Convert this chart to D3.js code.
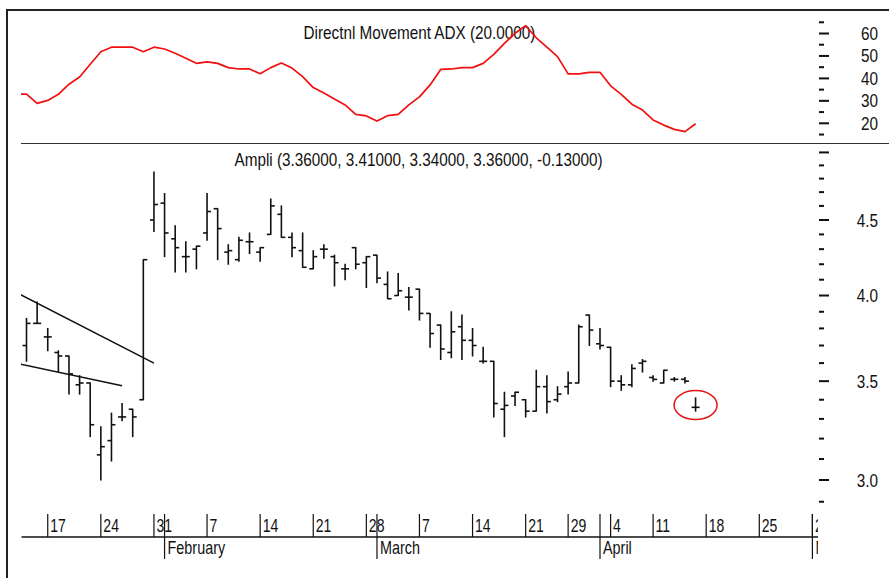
<!DOCTYPE html>
<html>
<head>
<meta charset="utf-8">
<script src="https://cdn.jsdelivr.net/npm/d3@7"></script>
<style>
  body { margin: 0; background: #fff; }
  text { font-family: "Liberation Sans", Arial, sans-serif; font-size: 18px; fill: #111; }
</style>
</head>
<body>
<div id="chart"></div>
<script>
// trading days (2005), last 11 are the empty future part of the axis
const days = [
  "01-12","01-13","01-14","01-17","01-18","01-19","01-20","01-21","01-24","01-25","01-26","01-27","01-28",
  "01-31","02-01","02-02","02-03","02-04","02-07","02-08","02-09","02-10","02-11","02-14","02-15","02-16",
  "02-17","02-18","02-21","02-22","02-23","02-24","02-25","02-28","03-01","03-02","03-03","03-04","03-07",
  "03-08","03-09","03-10","03-11","03-14","03-15","03-16","03-17","03-18","03-21","03-22","03-23","03-24",
  "03-29","03-30","03-31","04-01","04-04","04-05","04-06","04-07","04-11","04-12","04-13","04-14","04-15",
  "04-18","04-19","04-20","04-21","04-22","04-25","04-26","04-27","04-28","04-29","05-02"
];

// ADX(20), starts 01-12
const adx = [33.0,33.0,28.9,30.2,32.9,37.4,40.6,46.3,51.9,53.9,53.9,53.9,51.9,53.9,53.1,51.2,49.0,46.7,
  47.4,46.7,44.8,44.2,44.2,42.1,44.8,46.9,44.6,40.8,35.9,33.5,30.8,28.2,24.0,23.3,21.0,23.4,24.0,28.2,
  31.8,37.1,44.0,44.2,44.8,44.8,46.7,50.7,55.6,60.1,63.5,58.1,53.9,49.7,42.0,42.0,42.7,42.7,36.7,32.9,
  28.5,25.9,21.5,19.2,17.3,16.3,19.8];

// Ampli prices, start 01-13
const open = [3.70,3.83,3.75,3.66,3.64,3.48,3.49,3.12,3.19,3.31,3.35,3.40,4.50,4.62,4.37,4.25,4.30,4.41,
  4.58,4.28,4.23,4.35,4.28,4.40,4.54,4.38,4.29,4.17,4.30,4.25,4.17,4.31,4.21,4.26,4.07,4.00,3.99,4.04,
  3.89,3.82,3.66,3.81,3.73,3.61,3.61,3.35,3.42,3.40,3.34,3.47,3.40,3.47,3.49,3.88,3.71,3.69,3.50,3.48,
  3.60,3.52,3.49,3.51,3.51,3.36];
const high = [3.86,3.96,3.80,3.67,3.64,3.53,3.49,3.26,3.33,3.38,3.35,4.23,4.85,4.69,4.46,4.35,4.32,4.69,
  4.58,4.33,4.38,4.41,4.31,4.65,4.60,4.41,4.41,4.29,4.33,4.26,4.20,4.31,4.25,4.26,4.15,4.14,4.05,4.04,
  3.89,3.82,3.90,3.88,3.80,3.69,3.61,3.44,3.44,3.40,3.56,3.53,3.47,3.55,3.82,3.88,3.80,3.69,3.53,3.59,
  3.62,3.53,3.56,3.52,3.52,3.41];
const low = [3.61,3.83,3.67,3.55,3.43,3.43,3.21,3.00,3.09,3.29,3.21,3.40,4.42,4.25,4.15,4.15,4.17,4.36,
  4.23,4.20,4.22,4.27,4.22,4.40,4.38,4.25,4.18,4.17,4.24,4.06,4.10,4.17,4.05,4.08,3.98,4.00,3.91,3.85,
  3.69,3.62,3.63,3.62,3.64,3.60,3.31,3.21,3.37,3.31,3.34,3.33,3.39,3.43,3.49,3.70,3.68,3.47,3.45,3.47,
  3.55,3.50,3.49,3.50,3.49,3.34];
const close = [3.83,3.83,3.75,3.64,3.54,3.49,3.27,3.16,3.27,3.31,3.31,4.23,4.61,4.41,4.31,4.25,4.32,4.56,
  4.44,4.29,4.36,4.35,4.31,4.60,4.38,4.31,4.18,4.25,4.30,4.21,4.17,4.20,4.25,4.11,3.98,4.03,3.99,3.89,
  3.77,3.68,3.78,3.73,3.70,3.61,3.38,3.37,3.44,3.34,3.47,3.39,3.43,3.49,3.81,3.79,3.70,3.50,3.48,3.57,
  3.61,3.51,3.56,3.51,3.50,3.36];

// hand drawn trend lines [day, price]
const trendLines = [
  [["01-12", 4.02], ["01-31", 3.60]],
  [["01-12", 3.60], ["01-26", 3.475]]
];

// axis ticks and labels
const weekTicks = ["01-17","01-24","01-31","02-07","02-14","02-21","02-28","03-07","03-14","03-21",
  "03-29","04-04","04-11","04-18","04-25","05-02"];
const weekLabels = ["17","24","31","7","14","21","28","7","14","21","29","4","11","18","25","2"];
const monthTicks = ["02-01","03-01","04-01","05-02"];
const monthLabels = ["February","March","April","May"];
const priceMajor = [3.0, 3.5, 4.0, 4.5, 5.0];
const priceLabels = ["3.0", "3.5", "4.0", "4.5", ""];
const priceMinor = [2.9,3.1,3.2,3.3,3.4,3.6,3.7,3.8,3.9,4.1,4.2,4.3,4.4,4.6,4.7,4.8,4.9];
const adxMajor = [20, 30, 40, 50, 60];
const adxMinor = [15, 25, 35, 45, 55, 65];

const width = 889, height = 578;
const svg = d3.select("#chart").append("svg")
  .attr("width", width)
  .attr("height", height);

const x = d3.scalePoint().domain(days).range([15.88, 812.4]);
const yAdx = d3.scaleLinear().domain([20, 60]).range([123.3, 33.5]);
const yP = d3.scaleLog().domain([3.0, 4.5]).range([480, 220]);

// plot clip
svg.append("clipPath").attr("id", "plotclip")
  .append("rect").attr("x", 21).attr("y", 11).attr("width", 797).attr("height", 560);

// frame
svg.append("line").attr("x1", 7).attr("x2", 7).attr("y1", 10).attr("y2", height)
  .attr("stroke", "#222").attr("stroke-width", 2);
svg.append("line").attr("x1", 6).attr("x2", width).attr("y1", 10).attr("y2", 10)
  .attr("stroke", "#222").attr("stroke-width", 2);
svg.append("line").attr("x1", 21).attr("x2", width).attr("y1", 143.5).attr("y2", 143.5)
  .attr("stroke", "#333").attr("stroke-width", 1);

function label(g, px, py, str, anchor, sx) {
  return g.append("text")
    .attr("transform", `translate(${px},${py}) scale(${sx || 0.85},1)`)
    .attr("text-anchor", anchor || "start")
    .text(str);
}

// titles
label(svg, 419.5, 39, "Directnl Movement ADX (20.0000)", "middle");
label(svg, 418.5, 166, "Ampli (3.36000, 3.41000, 3.34000, 3.36000, -0.13000)", "middle");

const plot = svg.append("g").attr("clip-path", "url(#plotclip)");

// ADX line
plot.append("path")
  .datum(adx)
  .attr("fill", "none")
  .attr("stroke", "#f01010")
  .attr("stroke-width", 1.7)
  .attr("stroke-linejoin", "round")
  .attr("d", d3.line().x((d, i) => x(days[i])).y(d => yAdx(d)));

// price bars
const bars = open.map((o, i) => ({ day: days[i + 1], o: o, h: high[i], l: low[i], c: close[i] }));
const bar = plot.append("g").attr("stroke", "#111").attr("stroke-width", 1.6);
bar.selectAll("line.hl").data(bars).join("line")
  .attr("class", "hl")
  .attr("x1", d => x(d.day)).attr("x2", d => x(d.day))
  .attr("y1", d => yP(d.h) - 0.5).attr("y2", d => yP(d.l) + 0.5);
bar.selectAll("line.op").data(bars).join("line")
  .attr("class", "op")
  .attr("x1", d => x(d.day) - 4).attr("x2", d => x(d.day))
  .attr("y1", d => yP(d.o)).attr("y2", d => yP(d.o));
bar.selectAll("line.cl").data(bars).join("line")
  .attr("class", "cl")
  .attr("x1", d => x(d.day)).attr("x2", d => x(d.day) + 4)
  .attr("y1", d => yP(d.c)).attr("y2", d => yP(d.c));

// trend lines
plot.selectAll("line.trend").data(trendLines).join("line")
  .attr("class", "trend")
  .attr("x1", d => x(d[0][0])).attr("y1", d => yP(d[0][1]))
  .attr("x2", d => x(d[1][0])).attr("y2", d => yP(d[1][1]))
  .attr("stroke", "#111").attr("stroke-width", 1.5);

// red ring round the last bar
const last = bars[bars.length - 1];
plot.append("ellipse")
  .attr("cx", x(last.day)).attr("cy", (yP(last.h) + yP(last.l)) / 2 + 0.5)
  .attr("rx", 21.5).attr("ry", 14.5)
  .attr("fill", "none").attr("stroke", "#e01515").attr("stroke-width", 1.5);

// right axes
const axR = svg.append("g").attr("stroke", "#111").attr("stroke-width", 2);
axR.selectAll("line.pM").data(priceMajor).join("line")
  .attr("x1", 819).attr("x2", 829).attr("y1", d => yP(d)).attr("y2", d => yP(d));
axR.selectAll("line.pm").data(priceMinor).join("line")
  .attr("class", "pm")
  .attr("x1", 819).attr("x2", 824).attr("y1", d => yP(d)).attr("y2", d => yP(d));
axR.selectAll("line.aM").data(adxMajor).join("line")
  .attr("class", "aM")
  .attr("x1", 819).attr("x2", 829).attr("y1", d => yAdx(d)).attr("y2", d => yAdx(d));
axR.selectAll("line.am").data(adxMinor).join("line")
  .attr("class", "am")
  .attr("x1", 819).attr("x2", 824).attr("y1", d => yAdx(d)).attr("y2", d => yAdx(d));

priceMajor.forEach((v, i) => label(svg, 878, yP(v) + 6.5, priceLabels[i], "end"));
adxMajor.forEach(v => label(svg, 878, yAdx(v) + 6.5, String(v), "end"));

// bottom time axis
const axB = svg.append("g").attr("clip-path", "url(#plotclip)");
axB.append("line").attr("x1", 21.5).attr("x2", 818).attr("y1", 537).attr("y2", 537)
  .attr("stroke", "#111").attr("stroke-width", 1.6);
weekTicks.forEach((d, i) => {
  axB.append("line").attr("x1", x(d)).attr("x2", x(d)).attr("y1", 514).attr("y2", 537)
    .attr("stroke", "#111").attr("stroke-width", 1.2);
  label(axB, x(d) + 2.5, 532, weekLabels[i], "start", 0.78);
});
monthTicks.forEach((d, i) => {
  axB.append("line").attr("x1", x(d)).attr("x2", x(d)).attr("y1", 514).attr("y2", 559)
    .attr("stroke", "#111").attr("stroke-width", 1.2);
  label(axB, x(d) + 3, 554, monthLabels[i], "start", 0.8);
});
</script>
</body>
</html>
